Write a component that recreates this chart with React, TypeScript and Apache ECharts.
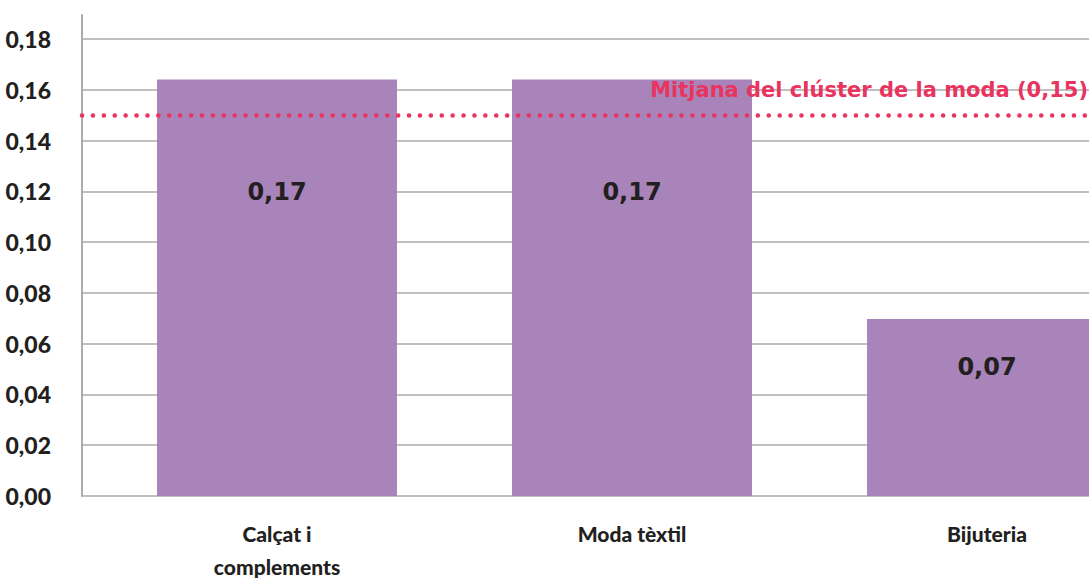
import React, { useEffect, useRef } from 'react';
import * as echarts from 'echarts';

const CATEGORIES = ['Calçat i\ncomplements', 'Moda tèxtil', 'Bijuteria'];
const VALUES = [0.164, 0.164, 0.0697];
const BAR_LABELS = ['0,17', '0,17', '0,07'];
const MEAN = 0.15;
const MEAN_LABEL = 'Mitjana del clúster de la moda (0,15)';
const Y_MIN = 0;
const Y_MAX = 0.18;
const Y_STEP = 0.02;

const DARK = '#231f20';
const PINK = '#e8345e';
const PURPLE = '#a884ba';
const GRID_GRAY = '#ababab';
const CONDENSED = 'Lato, "Noto Sans", sans-serif';

export default function App() {
  const ref = useRef<HTMLDivElement>(null);
  useEffect(() => {
    if (!ref.current) return;
    const chart = echarts.init(ref.current, null, { renderer: 'svg' });
    chart.setOption({
      animation: false,
      backgroundColor: '#ffffff',
      grid: [
        { left: 99.5, top: 39, bottom: 83, width: 1065, outerBoundsMode: 'none' },
        { left: 82, right: 0, top: 39, bottom: 83, outerBoundsMode: 'none' },
        { left: 82, right: 0, top: 15, bottom: 83, outerBoundsMode: 'none' },
      ],
      xAxis: [
        {
          type: 'category',
          gridIndex: 0,
          data: CATEGORIES,
          axisLine: { show: false },
          axisTick: { show: false },
          axisLabel: {
            interval: 0,
            margin: 21,
            color: DARK,
            fontFamily: CONDENSED,
            fontWeight: 900,
            fontSize: 21,
            lineHeight: 33,
          },
        },
        { type: 'value', gridIndex: 1, min: 0, max: 1, show: false },
        { type: 'value', gridIndex: 2, min: 0, max: 1, show: false },
      ],
      yAxis: [
        { type: 'value', gridIndex: 0, min: Y_MIN, max: Y_MAX, show: false },
        {
          type: 'value',
          gridIndex: 1,
          min: Y_MIN,
          max: Y_MAX,
          interval: Y_STEP,
          axisLine: { show: false },
          axisTick: { show: false },
          splitLine: { show: true, lineStyle: { color: GRID_GRAY, width: 1.5 } },
          axisLabel: {
            margin: 31,
            color: DARK,
            fontFamily: CONDENSED,
            fontWeight: 900,
            fontSize: 23,
            formatter: (v: number) => v.toFixed(2).replace('.', ','),
          },
        },
        {
          type: 'value',
          gridIndex: 2,
          min: 0,
          max: 1,
          axisLine: { show: true, lineStyle: { color: GRID_GRAY, width: 2 } },
          axisTick: { show: false },
          axisLabel: { show: false },
          splitLine: { show: false },
        },
      ],
      series: [
        {
          type: 'bar',
          xAxisIndex: 0,
          yAxisIndex: 0,
          data: VALUES,
          barWidth: 240,
          itemStyle: { color: PURPLE },
          z: 3,
          label: {
            show: true,
            position: ['50%', '27%'],
            align: 'center',
            verticalAlign: 'middle',
            formatter: (p: any) => BAR_LABELS[p.dataIndex],
            color: DARK,
            fontFamily: '"DejaVu Sans", sans-serif',
            fontWeight: 'bold',
            fontSize: 24,
          },
        },
        {
          type: 'line',
          xAxisIndex: 1,
          yAxisIndex: 1,
          data: [],
          z: 5,
          markLine: {
            silent: true,
            symbol: ['none', 'none'],
            lineStyle: { color: PINK, type: [0.1, 10.8], width: 4.5, cap: 'round' },
            label: {
              show: true,
              position: 'insideEndTop',
              distance: [1, 15],
              formatter: MEAN_LABEL,
              color: PINK,
              fontFamily: '"DejaVu Sans", sans-serif',
              fontWeight: 'bold',
              fontSize: 21,
            },
            data: [{ yAxis: MEAN }],
          },
        },
      ],
    });
    return () => chart.dispose();
  }, []);
  return (
    <div
      ref={ref}
      style={{ position: 'absolute', left: 0, top: 0, width: 1089, height: 579 }}
    />
  );
}
